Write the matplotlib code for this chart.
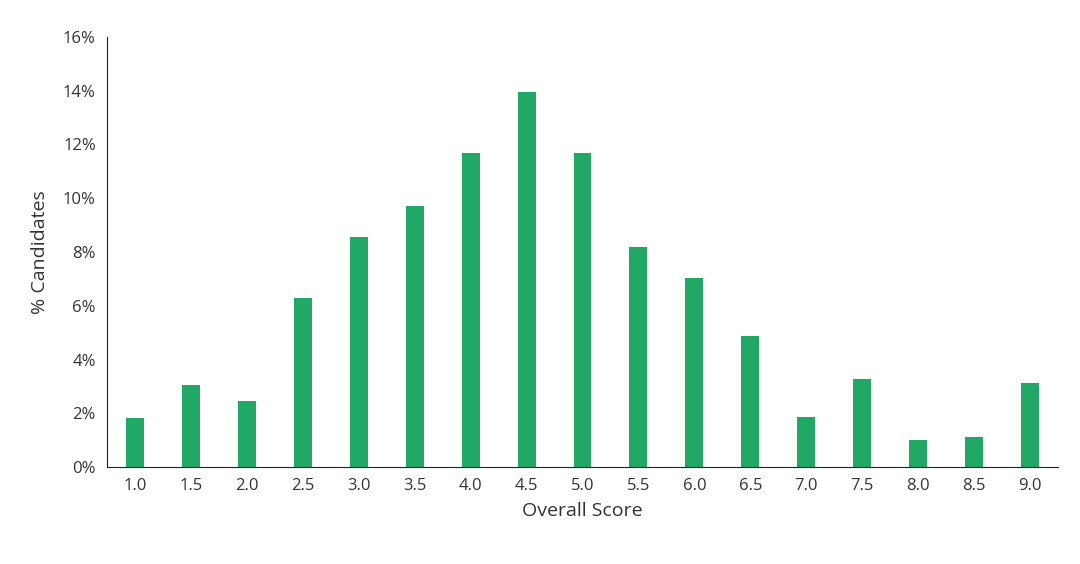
import matplotlib.pyplot as plt
from matplotlib.ticker import FuncFormatter

scores = ['1.0', '1.5', '2.0', '2.5', '3.0', '3.5', '4.0', '4.5', '5.0',
          '5.5', '6.0', '6.5', '7.0', '7.5', '8.0', '8.5', '9.0']
pct = [1.82, 3.05, 2.45, 6.28, 8.55, 9.70, 11.67, 13.94, 11.67,
       8.18, 7.03, 4.87, 1.86, 3.27, 1.0, 1.12, 3.12]

plt.rcParams['font.family'] = ['Open Sans', 'DejaVu Sans']

fig = plt.figure(figsize=(10.8, 5.64), dpi=100)
ax = fig.add_axes([107/1080, 1 - 467/564, 951/1080, 430/564])
ax.bar(range(len(scores)), pct, width=0.32, color='#21A866')

ax.set_xlim(-0.5, len(scores) - 0.5)
ax.set_ylim(0, 16)
ax.set_yticks(range(0, 17, 2))
ax.yaxis.set_major_formatter(FuncFormatter(lambda v, p: f'{v:.0f}%'))
ax.set_xticks(range(len(scores)))
ax.set_xticklabels(scores)
ax.tick_params(labelsize=12, length=0, colors='#333333', pad=8)

for s in ['top', 'right']:
    ax.spines[s].set_visible(False)
ax.spines['left'].set_color('#222222')
ax.spines['bottom'].set_color('#222222')

ax.set_xlabel('Overall Score', fontsize=14, color='#333333', labelpad=6)
ax.set_ylabel('% Candidates', fontsize=14, color='#333333', labelpad=10)

fig.savefig('out.png', dpi=100)
